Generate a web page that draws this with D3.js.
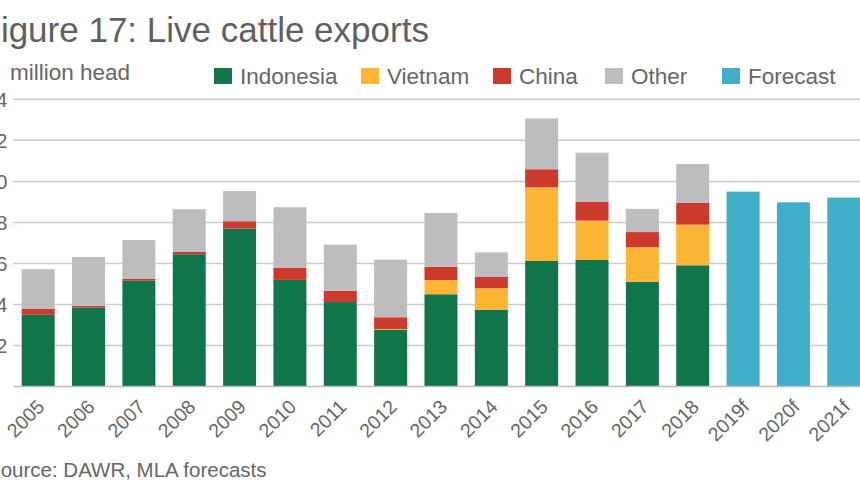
<!DOCTYPE html>
<html>
<head>
<meta charset="utf-8">
<script src="https://cdn.jsdelivr.net/npm/d3@7"></script>
<style>
  body { margin: 0; background: #fff; overflow: hidden; }
  svg { display: block; font-family: "Liberation Sans", Arial, sans-serif; }
</style>
</head>
<body>
<svg id="chart" width="860" height="500"></svg>
<script>
// data (million head)
const years = ["2005","2006","2007","2008","2009","2010","2011","2012","2013","2014","2015","2016","2017","2018","2019f","2020f","2021f"];
const indonesia = [0.350, 0.385, 0.516, 0.645, 0.770, 0.520, 0.412, 0.277, 0.450, 0.375, 0.612, 0.617, 0.511, 0.591];
const vietnam   = [0, 0, 0, 0, 0, 0, 0, 0.003, 0.069, 0.104, 0.359, 0.192, 0.168, 0.198];
const china     = [0.030, 0.009, 0.010, 0.011, 0.036, 0.060, 0.055, 0.058, 0.065, 0.055, 0.088, 0.092, 0.074, 0.107];
const other     = [0.192, 0.238, 0.188, 0.208, 0.147, 0.294, 0.225, 0.281, 0.262, 0.120, 0.248, 0.239, 0.113, 0.189];
const forecastYears = ["2019f","2020f","2021f"];
const forecast  = [0.950, 0.898, 0.921];
const yTicks = [0.2, 0.4, 0.6, 0.8, 1.0, 1.2, 1.4];

const seriesNames = ["Indonesia","Vietnam","China","Other"];
const colors = { Indonesia: "#10754a", Vietnam: "#f9b533", China: "#cc3a2e", Other: "#bdbdbf", Forecast: "#41aec8" };
const textColor = "#666666";

const svg = d3.select("#chart");

// plot area (reference is cropped on the left, so things start near x=0)
const plotLeft = 13, step = 50.35, plotTop = 99.3, plotBottom = 386.6;
const x = d3.scaleBand()
  .domain(years)
  .range([plotLeft, plotLeft + step * years.length])
  .paddingInner(0.345)
  .paddingOuter(0.1725);
const y = d3.scaleLinear().domain([0, 1.4]).range([plotBottom, plotTop]);

// gridlines
svg.append("g").selectAll("line")
  .data(yTicks)
  .join("line")
    .attr("x1", plotLeft).attr("x2", 870)
    .attr("y1", d => y(d)).attr("y2", d => y(d))
    .attr("stroke", "#cbcbcb")
    .attr("stroke-width", 1.5);

// y labels, right aligned just left of the grid
svg.append("g").selectAll("text")
  .data(yTicks)
  .join("text")
    .attr("x", 7.5)
    .attr("y", d => y(d))
    .attr("dy", "0.36em")
    .attr("text-anchor", "end")
    .attr("font-size", "20.5px")
    .attr("fill", textColor)
    .text(d => d.toFixed(1));

// stacked bars for the actual years
const rows = years.slice(0, indonesia.length).map((yr, i) => ({
  year: yr, Indonesia: indonesia[i], Vietnam: vietnam[i], China: china[i], Other: other[i]
}));
const stack = d3.stack().keys(seriesNames)(rows);

svg.append("g").selectAll("g")
  .data(stack)
  .join("g")
    .attr("fill", d => colors[d.key])
  .selectAll("rect")
  .data(d => d)
  .join("rect")
    .attr("x", d => x(d.data.year))
    .attr("width", x.bandwidth())
    .attr("y", d => y(d[1]))
    .attr("height", d => y(d[0]) - y(d[1]));

// forecast bars
svg.append("g").selectAll("rect")
  .data(forecastYears.map((yr, i) => ({ year: yr, v: forecast[i] })))
  .join("rect")
    .attr("x", d => x(d.year))
    .attr("width", x.bandwidth())
    .attr("y", d => y(d.v))
    .attr("height", d => y(0) - y(d.v))
    .attr("fill", colors.Forecast);

// baseline
svg.append("line")
  .attr("x1", plotLeft).attr("x2", 870)
  .attr("y1", y(0)).attr("y2", y(0))
  .attr("stroke", "#bcbcbc")
  .attr("stroke-width", 1.5);

// rotated year labels
svg.append("g").selectAll("text")
  .data(years)
  .join("text")
    .attr("transform", d => "translate(" + (x(d) + x.bandwidth() / 2 + 7.5) + ",408) rotate(-45)")
    .attr("text-anchor", "end")
    .attr("font-size", "19.5px")
    .attr("fill", textColor)
    .text(d => d);

// title, unit, source
svg.append("text")
  .attr("x", -20.5).attr("y", 42)
  .attr("font-size", "35px")
  .attr("fill", "#5f5f5f")
  .text("Figure 17: Live cattle exports");

svg.append("text")
  .attr("x", 10).attr("y", 80)
  .attr("font-size", "22.5px")
  .attr("fill", textColor)
  .text("million head");

svg.append("text")
  .attr("x", -13).attr("y", 477)
  .attr("font-size", "20.5px")
  .attr("fill", textColor)
  .text("Source: DAWR, MLA forecasts");

// legend
const legendItems = ["Indonesia","Vietnam","China","Other","Forecast"];
const legendX = [214, 361, 493, 605, 722];
const legend = svg.append("g").selectAll("g")
  .data(legendItems)
  .join("g")
    .attr("transform", (d, i) => "translate(" + legendX[i] + ",68)");
legend.append("rect")
  .attr("width", 18).attr("height", 16)
  .attr("fill", d => colors[d]);
legend.append("text")
  .attr("x", 26).attr("y", 15.5)
  .attr("font-size", "22.5px")
  .attr("fill", textColor)
  .text(d => d);
</script>
</body>
</html>
